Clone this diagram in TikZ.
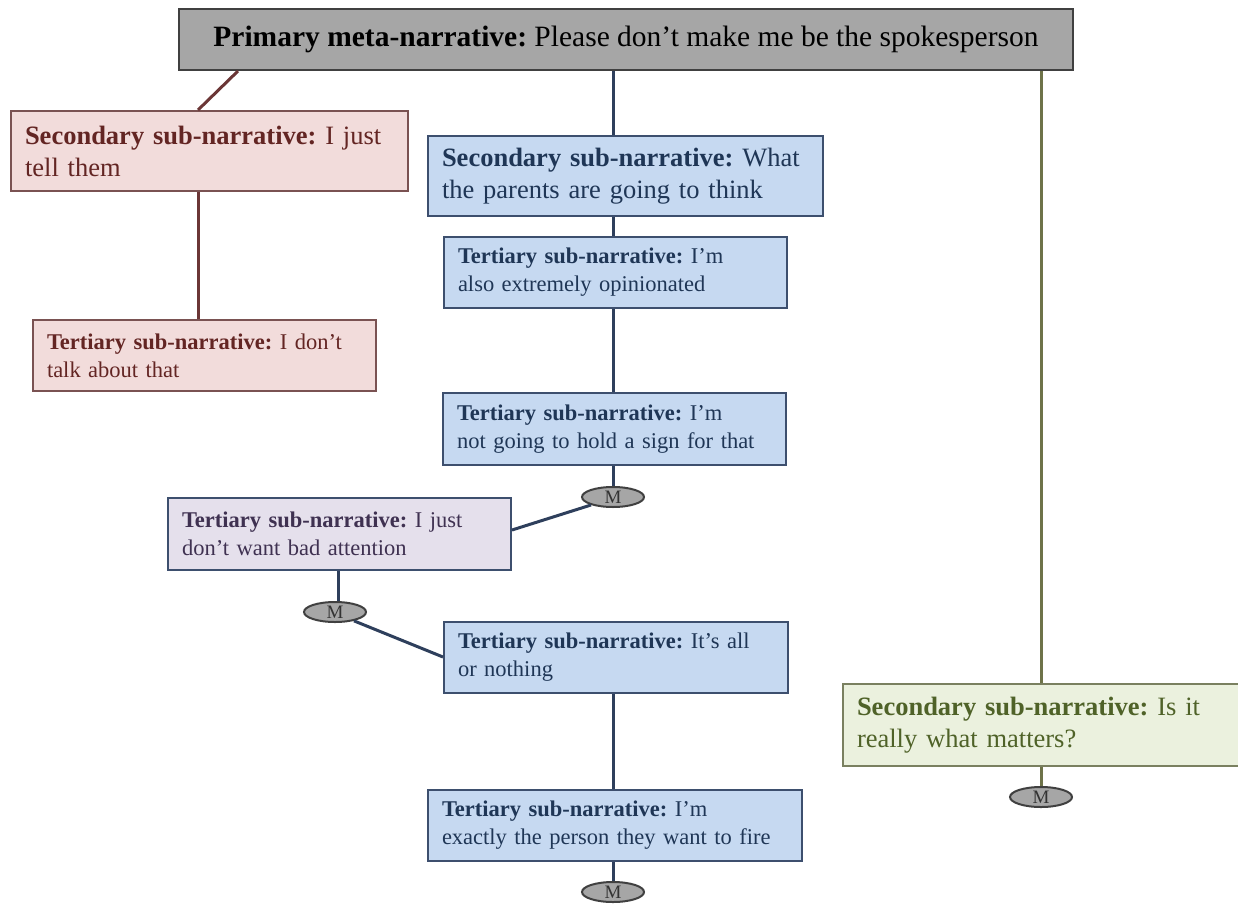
\documentclass[tikz,border=0pt]{standalone}
\usepackage{fontspec}
\setmainfont{Liberation Serif}
\usetikzlibrary{shapes.geometric}
\frenchspacing
\definecolor{pinkfill}{HTML}{F2DCDB}
\definecolor{pinkdraw}{HTML}{7A5252}
\definecolor{pinktext}{HTML}{632523}
\definecolor{pinkline}{HTML}{6B3636}
\definecolor{bluefill}{HTML}{C6D9F1}
\definecolor{bluedraw}{HTML}{3D4F6E}
\definecolor{bluetext}{HTML}{1F3656}
\definecolor{blueline}{HTML}{2E3F5C}
\definecolor{purpfill}{HTML}{E5E0EC}
\definecolor{purptext}{HTML}{3F3151}
\definecolor{greenfill}{HTML}{EBF1DE}
\definecolor{greendraw}{HTML}{7A8060}
\definecolor{greentext}{HTML}{4F6228}
\definecolor{greenline}{HTML}{6E7349}
\definecolor{grayfill}{HTML}{A6A6A6}
\definecolor{graydraw}{HTML}{404040}
\tikzset{
  nbox/.style={draw, line width=2pt, rectangle, anchor=north west, inner xsep=14pt, inner ysep=0pt, align=left},
  sectext/.style={font=\fontsize{26.5}{32}\selectfont},
  tertext/.style={font=\fontsize{22.5}{28}\selectfont},
  pinkbox/.style={nbox, fill=pinkfill, draw=pinkdraw, text=pinktext},
  bluebox/.style={nbox, fill=bluefill, draw=bluedraw, text=bluetext},
  purpbox/.style={nbox, fill=purpfill, draw=bluedraw, text=purptext},
  greenbox/.style={nbox, fill=greenfill, draw=greendraw, text=greentext},
  mnode/.style={ellipse, draw=graydraw, line width=2pt, fill=grayfill, minimum width=62pt, minimum height=20pt, inner sep=0pt, font=\fontsize{19}{19}\selectfont, text=black!80},
  conn/.style={line width=3pt},
}
\begin{document}
\begin{tikzpicture}[x=1pt, y=-1pt]
\useasboundingbox (0,0) rectangle (1238,907);
% primary
\node[nbox, fill=grayfill, draw=graydraw, text=black, minimum width=894pt, minimum height=61pt, align=center, font=\fontsize{29.5}{34}\selectfont] (prim) at (178,8)
  {\textbf{Primary meta-narrative:} Please don't make me be the spokesperson};
% pink branch
\node[pinkbox, sectext, text width=369pt, minimum width=397pt, minimum height=80pt] (s1) at (10,110)
  {\textbf{Secondary sub-narrative:} I just\\tell them};
\node[pinkbox, tertext, text width=315pt, minimum width=343pt, minimum height=71pt] (t1) at (32,319)
  {\textbf{Tertiary sub-narrative:} I don't\\talk about that};
% blue branch
\node[bluebox, sectext, text width=367pt, minimum width=395pt, minimum height=80pt] (s2) at (427,135)
  {\textbf{Secondary sub-narrative:} What\\the parents are going to think};
\node[bluebox, tertext, text width=315pt, minimum width=343pt, minimum height=71pt] (b1) at (443,236)
  {\textbf{Tertiary sub-narrative:} I'm\\also extremely opinionated};
\node[bluebox, tertext, text width=315pt, minimum width=343pt, minimum height=72pt] (b2) at (442,392)
  {\textbf{Tertiary sub-narrative:} I'm\\not going to hold a sign for that};
\node[mnode] (m1) at (613,497) {M};
\node[purpbox, tertext, text width=315pt, minimum width=343pt, minimum height=72pt] (p1) at (167,497)
  {\textbf{Tertiary sub-narrative:} I just\\don't want bad attention};
\node[mnode] (m2) at (335,612) {M};
\node[bluebox, tertext, text width=316pt, minimum width=344pt, minimum height=71pt] (b3) at (443,621)
  {\textbf{Tertiary sub-narrative:} It's all\\or nothing};
\node[bluebox, tertext, text width=346pt, minimum width=374pt, minimum height=71pt] (b4) at (427,789)
  {\textbf{Tertiary sub-narrative:} I'm\\exactly the person they want to fire};
\node[mnode] (m3) at (613,892) {M};
% green branch
\node[greenbox, sectext, text width=369pt, minimum width=397pt, minimum height=82pt] (g1) at (842,683)
  {\textbf{Secondary sub-narrative:} Is it\\really what matters?};
\node[mnode] (m4) at (1041,797) {M};
% connectors
\draw[conn, pinkline] (prim.south -| 238,0) -- (s1.north -| 198,0);
\draw[conn, pinkline] (s1.south -| 198,0) -- (t1.north -| 198,0);
\draw[conn, blueline] (prim.south -| 613,0) -- (s2.north -| 613,0);
\draw[conn, blueline] (s2.south -| 613,0) -- (b1.north -| 613,0);
\draw[conn, blueline] (b1.south -| 613,0) -- (b2.north -| 613,0);
\draw[conn, blueline] (b2.south -| 613,0) -- (m1.north);
\draw[conn, blueline] (m1.200) -- (p1.east |- 0,530);
\draw[conn, blueline] (p1.south -| 338,0) -- (m2.north -| 338,0);
\draw[conn, blueline] (m2.-25) -- (b3.west |- 0,657);
\draw[conn, blueline] (b3.south -| 613,0) -- (b4.north -| 613,0);
\draw[conn, blueline] (b4.south -| 613,0) -- (m3.north);
\draw[conn, greenline] (prim.south -| 1041,0) -- (g1.north -| 1041,0);
\draw[conn, greenline] (g1.south -| 1041,0) -- (m4.north);
\end{tikzpicture}
\end{document}
